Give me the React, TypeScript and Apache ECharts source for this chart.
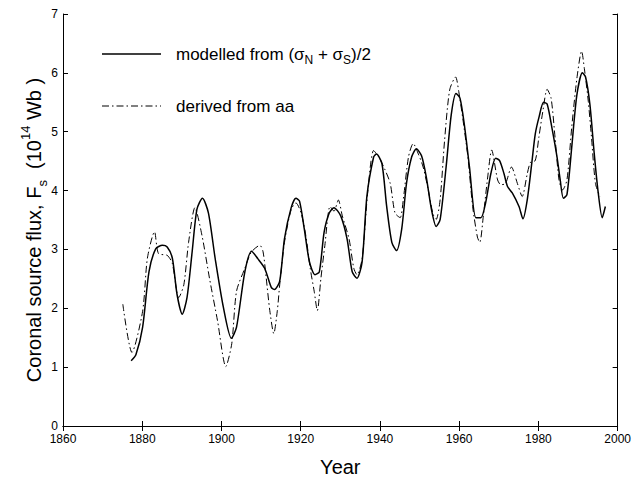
import React, { useEffect, useRef } from "react";
import * as echarts from "echarts";

// Modelled from (sigma_N + sigma_S)/2
const modelYears = [
  1877.2, 1878.4, 1880.1, 1881.7, 1883.4, 1885.1, 1886.3, 1887.6, 1888.8, 1890.1,
  1891.3, 1892.6, 1893.8, 1895.2, 1896.7, 1898.4, 1900.5, 1902.5, 1903.8, 1905.9,
  1907.6, 1909.2, 1910.9, 1912.6, 1913.4, 1914.7, 1915.9, 1917.6, 1918.8, 1919.7,
  1920.9, 1922.2, 1923.6, 1924.7, 1925.9, 1927.2, 1928.4, 1930.1, 1931.7, 1933.0,
  1934.2, 1935.5, 1936.7, 1938.4, 1939.1, 1940.5, 1941.7, 1943.0, 1944.2, 1945.5,
  1946.7, 1948.0, 1949.2, 1950.5, 1951.7, 1953.0, 1954.2, 1955.2, 1956.7, 1958.0,
  1959.2, 1960.2, 1961.3, 1962.6, 1964.2, 1965.5, 1966.7, 1968.0, 1969.2, 1970.2,
  1971.3, 1972.2, 1973.4, 1975.1, 1976.1, 1977.2, 1978.4, 1979.2, 1980.2, 1981.3,
  1982.2, 1983.4, 1984.7, 1985.5, 1986.3, 1987.2, 1988.4, 1989.7, 1991.1, 1991.9,
  1993.0, 1994.1, 1995.1, 1996.1, 1996.9,
];
const modelFlux = [
  1.11, 1.21, 1.68, 2.62, 3.01, 3.07, 3.04, 2.85, 2.23, 1.9,
  2.18, 2.96, 3.68, 3.87, 3.62, 2.85, 2.01, 1.49, 1.68, 2.62,
  2.97, 2.84, 2.68, 2.35, 2.32, 2.46, 3.18, 3.71, 3.87, 3.82,
  3.35, 2.79, 2.57, 2.62, 3.29, 3.62, 3.71, 3.57, 3.18, 2.62,
  2.51, 2.79, 3.9, 4.57, 4.62, 4.46, 3.73, 3.12, 2.98, 3.35,
  4.12, 4.57, 4.71, 4.59, 4.23, 3.68, 3.39, 3.51, 4.4, 5.29,
  5.65, 5.57, 5.12, 4.4, 3.54, 3.54, 3.8, 4.29, 4.55, 4.51,
  4.29, 4.07, 3.96, 3.73, 3.52, 3.85, 4.51, 4.96, 5.26, 5.5,
  5.47, 5.07, 4.57, 4.18, 3.87, 3.93, 4.73, 5.62, 6.0, 5.93,
  5.46, 4.62, 3.96, 3.54, 3.73,
];

// Derived from aa
const aaYears = [
  1875.1, 1877.4, 1880.1, 1881.3, 1883.1, 1884.1, 1886.3, 1887.6, 1889.2, 1890.5,
  1891.7, 1893.3, 1895.1, 1897.0, 1899.0, 1901.1, 1902.6, 1903.8, 1905.9, 1907.5,
  1909.7, 1910.5, 1911.3, 1912.2, 1913.2, 1914.1, 1914.7, 1915.9, 1917.6, 1918.8,
  1920.1, 1921.3, 1922.4, 1923.4, 1924.2, 1925.1, 1926.1, 1927.4, 1928.4, 1929.5,
  1930.5, 1932.2, 1933.4, 1934.2, 1935.5, 1936.9, 1938.4, 1939.7, 1941.3, 1942.6,
  1943.8, 1945.1, 1945.9, 1947.2, 1948.4, 1949.7, 1950.9, 1952.2, 1953.4, 1954.2,
  1955.2, 1956.3, 1957.6, 1959.1, 1959.9, 1960.9, 1962.2, 1963.4, 1964.6, 1965.2,
  1966.1, 1967.2, 1968.2, 1969.7, 1970.5, 1971.7, 1973.2, 1974.7, 1975.9, 1977.2,
  1978.0, 1979.2, 1980.1, 1981.1, 1982.2, 1983.2, 1984.2, 1985.2, 1986.1, 1987.2,
  1988.4, 1989.7, 1990.9, 1991.6, 1992.6, 1993.4, 1994.4, 1995.5,
];
const aaFlux = [
  2.07, 1.25, 1.95, 2.85, 3.3, 2.93, 2.9, 2.76, 2.18, 2.4,
  3.12, 3.71, 3.23, 2.5, 1.79, 1.01, 1.4, 2.29, 2.68, 2.95,
  3.07, 2.96, 2.51, 1.96, 1.57, 1.96, 2.4, 3.12, 3.68, 3.79,
  3.62, 3.23, 2.68, 2.29, 1.96, 2.51, 3.07, 3.73, 3.65, 3.84,
  3.57, 3.18, 2.68, 2.57, 2.84, 3.96, 4.68, 4.57, 4.35, 4.12,
  3.62, 3.54, 3.85, 4.57, 4.8, 4.62, 4.4, 4.01, 3.6, 3.51,
  3.85, 4.84, 5.71, 5.93, 5.68, 5.23, 4.57, 3.73, 3.21, 3.12,
  3.57, 4.23, 4.69, 4.18, 4.1, 4.12, 4.4, 4.12, 3.9, 4.29,
  4.48, 4.51, 4.9, 5.34, 5.72, 5.57, 4.9, 4.18, 4.01, 4.18,
  5.07, 5.9, 6.37, 6.07, 5.51, 4.9, 4.12, 3.9,
];

const xRange = [1860, 2000];
const xStep = 20;
const yRange = [0, 7];
const yStep = 1;

const FONT = "'Liberation Sans', Arial, Helvetica, sans-serif";

export default function App() {
  const ref = useRef<HTMLDivElement>(null);

  useEffect(() => {
    document.body.style.margin = "0";
    const chart = echarts.init(ref.current!, null, { renderer: "svg" });

    const axisCommon = {
      axisLine: { show: true, lineStyle: { color: "#000", width: 1 } },
      axisTick: { show: true, inside: true, length: 5, lineStyle: { color: "#000", width: 1 } },
      splitLine: { show: false },
    };

    const xAxisBase = {
      type: "value",
      min: xRange[0],
      max: xRange[1],
      interval: xStep,
      ...axisCommon,
    };
    const yAxisBase = {
      type: "value",
      min: yRange[0],
      max: yRange[1],
      interval: yStep,
      ...axisCommon,
    };

    const option = {
      animation: false,
      backgroundColor: "#fff",
      grid: { left: 63, right: 11, top: 14, bottom: 48, containLabel: false },
      xAxis: [
        {
          ...xAxisBase,
          position: "bottom",
          axisLabel: {
            color: "#000",
            fontSize: 12,
            fontFamily: FONT,
            margin: 7,
            lineHeight: 12,
            formatter: (v: number) => String(v),
          },
          name: "Year",
          nameLocation: "middle",
          nameGap: 31,
          nameTextStyle: { color: "#000", fontSize: 20, fontFamily: FONT },
        },
        {
          ...xAxisBase,
          position: "top",
          axisLabel: { show: false },
        },
      ],
      yAxis: [
        {
          ...yAxisBase,
          position: "left",
          axisLabel: { color: "#000", fontSize: 12, fontFamily: FONT, margin: 5, lineHeight: 11 },
        },
        {
          ...yAxisBase,
          position: "right",
          axisLabel: { show: false },
        },
      ],
      series: [
        {
          name: "modelled",
          type: "line",
          xAxisIndex: 0,
          yAxisIndex: 0,
          data: modelYears.map((y, i) => [y, modelFlux[i]]),
          symbol: "none",
          smooth: 0.25,
          lineStyle: { color: "#000", width: 1.5 },
        },
        {
          name: "aa",
          type: "line",
          xAxisIndex: 0,
          yAxisIndex: 0,
          data: aaYears.map((y, i) => [y, aaFlux[i]]),
          symbol: "none",
          smooth: 0.25,
          lineStyle: { color: "#000", width: 1, type: [7, 3, 1.5, 3] },
        },
      ],
      graphic: [
        {
          type: "line",
          shape: { x1: 102, y1: 54, x2: 161, y2: 54 },
          style: { stroke: "#000", lineWidth: 1.5 },
        },
        {
          type: "line",
          shape: { x1: 102, y1: 106, x2: 161, y2: 106 },
          style: { stroke: "#000", lineWidth: 1, lineDash: [7, 3, 1.5, 3] },
        },
        {
          type: "text",
          x: 176,
          y: 54,
          style: {
            text: "{a|modelled from (σ}{s|N}{a| + σ}{s|S}{a|)/2}",
            verticalAlign: "middle",
            align: "left",
            fill: "#000",
            rich: {
              a: { fontSize: 17, fontFamily: FONT, lineHeight: 24, fill: "#000" },
              s: { fontSize: 12, fontFamily: FONT, lineHeight: 13, verticalAlign: "bottom", fill: "#000" },
            },
          },
        },
        {
          type: "text",
          x: 176,
          y: 106,
          style: {
            text: "derived from aa",
            verticalAlign: "middle",
            align: "left",
            fill: "#000",
            fontSize: 17,
            fontFamily: FONT,
          },
        },
        {
          type: "text",
          x: 34,
          y: 230,
          rotation: Math.PI / 2,
          style: {
            text: "{a|Coronal source flux, F}{s|s}{a|  (10}{p|14}{a| Wb )}",
            align: "center",
            verticalAlign: "middle",
            fill: "#000",
            rich: {
              a: { fontSize: 20, fontFamily: FONT, lineHeight: 30, fill: "#000" },
              s: { fontSize: 13, fontFamily: FONT, lineHeight: 16, verticalAlign: "bottom", fill: "#000" },
              p: { fontSize: 13, fontFamily: FONT, lineHeight: 16, verticalAlign: "top", fill: "#000" },
            },
          },
        },
      ],
    };

    chart.setOption(option as any);
    return () => chart.dispose();
  }, []);

  return (
    <div
      ref={ref}
      style={{ position: "absolute", left: 0, top: 0, width: 634, height: 482 }}
    />
  );
}
